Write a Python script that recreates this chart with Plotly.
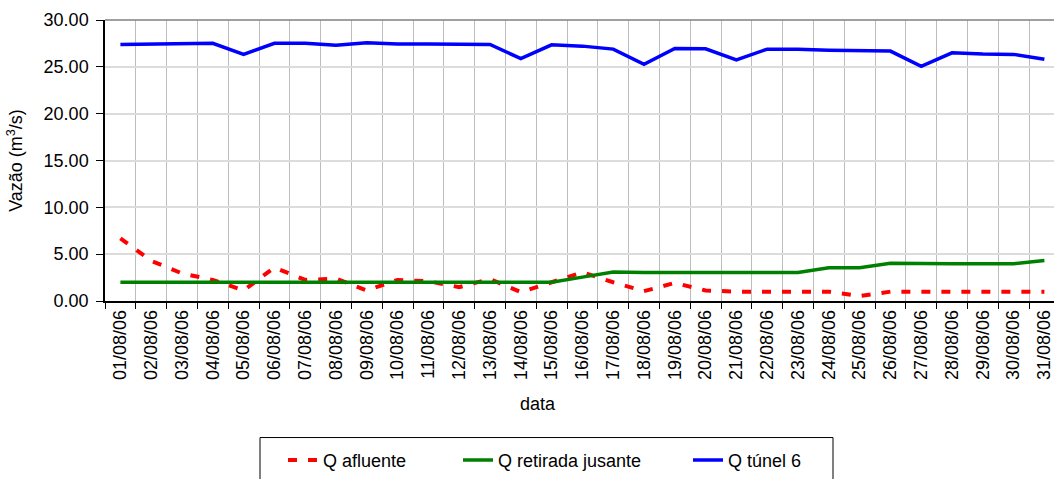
import plotly.graph_objects as go

dates = ["%02d/08/06" % d for d in range(1, 32)]

q_afluente = [6.68, 4.29, 2.95, 2.25, 1.13, 3.58, 2.25, 2.39, 1.13, 2.25,
              2.10, 1.48, 2.35, 0.95, 2.00, 3.06, 2.00, 1.05, 1.93, 1.13,
              1.00, 1.00, 1.00, 1.00, 0.53, 1.00, 1.00, 1.00, 1.00, 1.00, 1.00]
q_retirada = [2.0, 2.0, 2.0, 2.0, 2.0, 2.0, 2.0, 2.0, 2.0, 2.0,
              2.0, 2.0, 2.0, 2.0, 2.0, 2.55, 3.10, 3.05, 3.05, 3.05,
              3.05, 3.05, 3.05, 3.55, 3.55, 4.04, 3.97, 3.97, 3.97, 3.97, 4.32]
q_tunel = [27.39, 27.45, 27.45, 27.52, 26.33, 27.52, 27.52, 27.31, 27.56, 27.45,
           27.45, 27.45, 27.39, 25.87, 27.35, 27.21, 26.89, 25.27, 26.96, 26.93,
           25.73, 26.89, 26.89, 26.78, 26.75, 26.68, 25.06, 26.50, 26.36, 26.33, 25.80]

series_names = ["Q afluente", "Q retirada jusante", "Q túnel 6"]
y_ticks = [0, 5, 10, 15, 20, 25, 30]

W, H = 1054, 479
L, R, T, B = 105, 0, 20, 175
PW, PH = W - L - R, H - T - B
CAT_W = 30.8

def px_x(p):
    return (p - L) / PW

def px_y(p):
    return (H - B - p) / PH

FONT = "Arial, Liberation Sans, sans-serif"

fig = go.Figure()
fig.add_trace(go.Scatter(x=dates, y=q_afluente, mode="lines", name=series_names[0],
                         line=dict(color="#FF0000", width=4, dash="9px,11px"), legend="legend"))
fig.add_trace(go.Scatter(x=dates, y=q_retirada, mode="lines", name=series_names[1],
                         line=dict(color="#008000", width=3.5), legend="legend2"))
fig.add_trace(go.Scatter(x=dates, y=q_tunel, mode="lines", name=series_names[2],
                         line=dict(color="#0000FF", width=3.5), legend="legend3"))

leg_common = dict(orientation="h", xanchor="left", yanchor="middle", bgcolor="rgba(0,0,0,0)",
                  borderwidth=0, font=dict(family=FONT, size=18, color="#000"))
leg_y = px_y(465)

fig.update_layout(
    width=W, height=H,
    margin=dict(l=L, r=R, t=T, b=B, pad=0),
    paper_bgcolor="white", plot_bgcolor="white",
    font=dict(family=FONT, size=18, color="#000"),
    showlegend=True,
    legend=dict(x=px_x(283), y=leg_y, **leg_common),
    legend2=dict(x=px_x(458), y=leg_y, **leg_common),
    legend3=dict(x=px_x(688), y=leg_y, **leg_common),
    xaxis=dict(
        type="category", range=[-0.5, -0.5 + PW / CAT_W],
        tickson="boundaries", ticks="outside", ticklen=6, tickcolor="#000", tickwidth=1,
        tickangle=-90, tickfont=dict(family=FONT, size=18, color="#000"),
        showgrid=True, gridcolor="#bdbdbd", gridwidth=1,
        showline=True, linecolor="#000", linewidth=1.5,
        automargin=False, zeroline=False,
    ),
    yaxis=dict(
        range=[0, 30], tickvals=y_ticks, tickformat=".2f",
        ticks="outside", ticklen=7, tickcolor="#000", tickwidth=1,
        ticklabelstandoff=4,
        tickfont=dict(family=FONT, size=18, color="#000"),
        showgrid=True, gridcolor="#dcdcdc", gridwidth=2,
        showline=True, linecolor="#000", linewidth=1.5,
        zeroline=False, automargin=False,
        title=dict(text="Vazão (m<sup>3</sup>/s)", font=dict(family=FONT, size=18, color="#000"), standoff=16),
    ),
    annotations=[dict(text="data", x=px_x(538), y=px_y(408), xref="paper", yref="paper",
                      xanchor="center", yanchor="middle", showarrow=False,
                      font=dict(family=FONT, size=18, color="#000"))],
    shapes=[
        dict(type="line", xref="paper", yref="paper", x0=0, x1=1, y0=1, y1=1,
             line=dict(color="#808080", width=1.5)),
        dict(type="rect", xref="paper", yref="paper", x0=px_x(260), x1=px_x(833),
             y0=px_y(442), y1=px_y(520), line=dict(color="#000", width=1), fillcolor="rgba(0,0,0,0)"),
    ],
)

fig.write_html(
    "out.html",
    config={"displayModeBar": False},
    post_script="document.body.style.margin='0';document.body.style.overflow='hidden';"
                "document.documentElement.style.overflow='hidden';",
)
